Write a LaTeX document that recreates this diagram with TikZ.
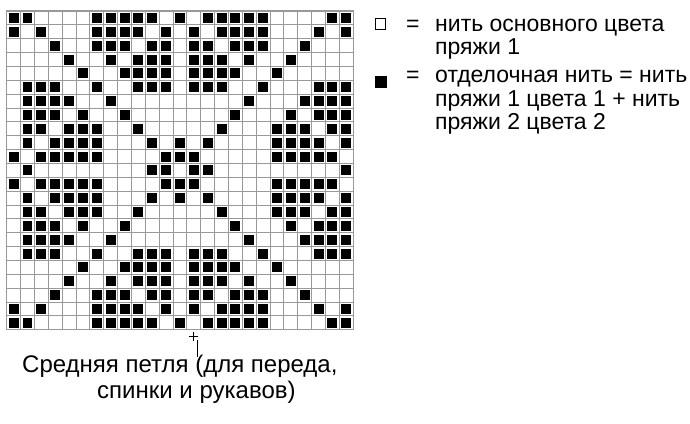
\documentclass[tikz,border=0pt]{standalone}
\usepackage{fontspec}
\setmainfont{Liberation Sans}
\usepackage{tikz}
\usetikzlibrary{calc}

\tikzset{
    gridline/.style={draw=black!40, line width=1pt},
    stitch/.style={fill=black},
    keybox/.style={draw=black, line width=1pt, minimum size=10.5pt, inner sep=0pt},
    keytext/.style={anchor=base west, inner sep=0pt, font=\fontsize{23}{27}\selectfont},
    notetext/.style={anchor=base west, inner sep=0pt, font=\fontsize{24}{27}\selectfont},
}

\begin{document}
\begin{tikzpicture}[x=1pt, y=-1pt]
        \useasboundingbox (0,0) rectangle (690,423);

        % chart, 25 stitches x 23 rows, rows 12-22 mirror rows 10-0
        \begin{scope}[shift={(6.7,11)}, x=13.86pt, y=-13.86pt]
            \foreach \i in {0,...,25} \draw[gridline] (\i,0) -- (\i,23);
            \foreach \j in {0,...,23} \draw[gridline] (0,\j) -- (25,\j);
            \draw[gridline, line width=1.4pt] (0,0) rectangle (25,23);

            \foreach \r/\cols in {0/{0,1,6,7,8,9,10,12,14,15,16,17,18,23,24},
                                  1/{0,2,6,7,8,9,11,13,15,16,17,18,22,24},
                                  2/{3,6,7,8,10,11,13,14,16,17,18,21},
                                  3/{4,7,9,10,11,13,14,15,17,20},
                                  4/{5,8,9,10,11,13,14,15,16,19},
                                  5/{1,2,3,6,9,10,11,13,14,15,18,22,23,24},
                                  6/{1,2,3,4,7,17,21,22,23,24},
                                  7/{1,2,3,5,8,16,20,22,23,24},
                                  8/{1,2,4,5,6,9,15,19,20,21,23,24},
                                  9/{1,3,4,5,6,10,12,14,19,20,21,22,24},
                                  10/{0,2,3,4,5,6,11,12,13,19,20,21,22,23},
                                  11/{1,10,11,13,14,24}} {
                \foreach \c in \cols {
                    \fill[stitch] (\c+0.14,\r+0.14) rectangle ++(0.72,0.72);
                    \fill[stitch] (\c+0.14,22-\r+0.14) rectangle ++(0.72,0.72);
                }
            }
        \end{scope}

        % key
        \node[keybox] (white) at (380.5,24) {};
        \node[keybox, fill=black] (black) at (380.8,82) {};
        \node[keytext] (eq1) at (406,31) {=};
        \node[keytext] (key1) at (435,31) {нить основного цвета};
        \node[keytext] (key2) at (435,54.5) {пряжи 1};
        \node[keytext] (eq2) at (406,82.5) {=};
        \node[keytext] (key3) at (435,82.5) {отделочная нить = нить};
        \node[keytext] (key4) at (435,106) {пряжи 1 цвета 1 + нить};
        \node[keytext] (key5) at (435,129.5) {пряжи 2 цвета 2};

        % middle stitch mark
        \coordinate (mid) at (193.5,336.5);
        \coordinate (tick) at (197.5,340);
        \coordinate (tickend) at (197.5,357);
        \draw[line width=1.1pt] ($(mid)+(-4.5,0)$) -- ($(mid)+(4.5,0)$)
                                ($(mid)+(0,-4.5)$) -- ($(mid)+(0,4.5)$);
        \draw[line width=1.1pt] (tick) -- (tickend);

        \node[notetext] (midtext1) at (22,372.5) {Средняя петля (для переда,};
        \node[notetext] (midtext2) at (97,398.5) {спинки и рукавов)};

    \end{tikzpicture}
\end{document}
